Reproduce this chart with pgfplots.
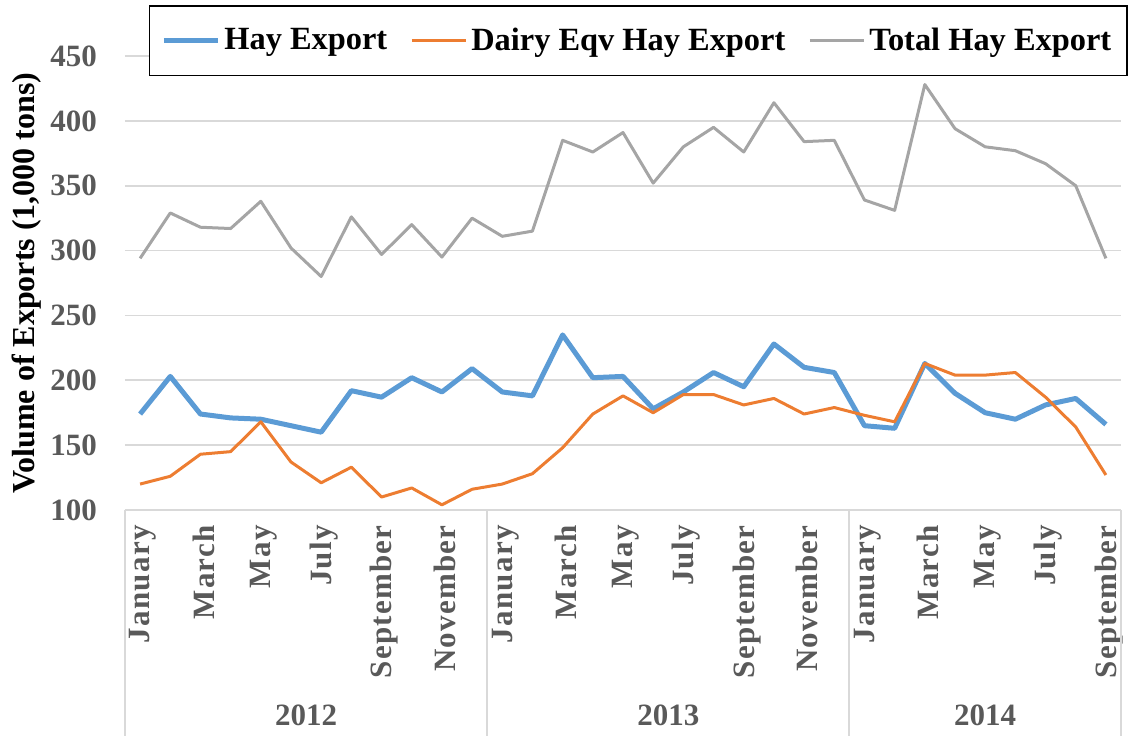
\documentclass[border=0pt]{standalone}
\usepackage{pgfplots}
\pgfplotsset{compat=1.18}
\usepackage{pgfplotstable}
\usepackage{fontspec}
\setmainfont{Liberation Serif}
\definecolor{cblue}{HTML}{5B9BD5}
\definecolor{corange}{HTML}{ED7D31}
\definecolor{cgray}{HTML}{A5A5A5}
\definecolor{gridc}{HTML}{D9D9D9}
\definecolor{txtc}{HTML}{595959}
\newcommand{\bigf}{\fontsize{15.5}{18}\selectfont\bfseries}
\newcommand{\legf}{\fontsize{16.2}{19}\selectfont\bfseries}
\newcommand{\labf}{\fontsize{16}{19}\selectfont\bfseries}
\newcommand{\monf}{\fontsize{15.5}{18}\selectfont\bfseries\addfontfeatures{LetterSpace=4}}
\pgfplotstableread{
x hay dairy total
0 174 120 294
1 203 126 329
2 174 143 318
3 171 145 317
4 170 168 338
5 165 137 302
6 160 121 280
7 192 133 326
8 187 110 297
9 202 117 320
10 191 104 295
11 209 116 325
12 191 120 311
13 188 128 315
14 235 148 385
15 202 174 376
16 203 188 391
17 178 175 352
18 191 189 380
19 206 189 395
20 195 181 376
21 228 186 414
22 210 174 384
23 206 179 385
24 165 173 339
25 163 168 331
26 213 213 428
27 190 204 394
28 175 204 380
29 170 206 377
30 181 187 367
31 186 164 350
32 166 127 294
}\data
\begin{document}
\begin{tikzpicture}
\begin{axis}[
  name=ax,
  at={(0,0)}, anchor=south west,
  scale only axis,
  width=498pt, height=227pt,
  xmin=-0.5, xmax=32.5,
  ymin=100, ymax=450,
  ytick={100,150,...,450},
  xtick={0,2,...,32},
  xticklabels={January,March,May,July,September,November,January,March,May,July,September,November,January,March,May,July,September},
  major tick length=0pt,
  axis lines*=left,
  y axis line style={draw=none},
  x axis line style={draw=gridc, line width=1pt},
  ymajorgrids,
  grid style={gridc, line width=0.9pt},
  /pgf/number format/assume math mode=true,
  yticklabel style={font=\bigf, text=txtc, xshift=-10.5pt},
  xticklabel style={font=\monf, text=txtc, xshift=1.5pt, yshift=-7.5pt, rotate=90, anchor=east, inner sep=0pt},
  ylabel={Volume of Exports (1,000 tons)},
  ylabel style={font=\labf, text=black, at={(axis description cs:-0.0984,0.5)}, anchor=center},
  clip=false,
  legend columns=3,
  legend style={at={(axis description cs:1.007,1.1123)}, anchor=north east, draw=black, line width=0.75pt, fill=white, font=\legf, text=black, inner xsep=6pt, inner ysep=9pt, /tikz/every even column/.append style={column sep=9.5pt}},
  legend image code/.code={\draw[#1] (0pt,0pt) -- (27pt,0pt);},
]
\addplot[cblue, line width=2.5pt, line join=round] table[x=x, y=hay] {\data};
\addlegendentry{Hay Export}
\addplot[corange, line width=1.5pt, line join=round] table[x=x, y=dairy] {\data};
\addlegendentry{Dairy Eqv Hay Export}
\addplot[cgray, line width=1.5pt, line join=round] table[x=x, y=total] {\data};
\addlegendentry{Total Hay Export}
\draw[gridc, line width=1pt] (axis cs:-0.5,100) -- ++(0pt,-113pt);
\draw[gridc, line width=1pt] (axis cs:11.5,100) -- ++(0pt,-113pt);
\draw[gridc, line width=1pt] (axis cs:23.5,100) -- ++(0pt,-113pt);
\draw[gridc, line width=1pt] (axis cs:32.5,100) -- ++(0pt,-113pt);
\node[font=\bigf, text=txtc, yshift=-102.5pt] at (axis cs:5.5,100) {2012};
\node[font=\bigf, text=txtc, yshift=-102.5pt] at (axis cs:17.5,100) {2013};
\node[font=\bigf, text=txtc, yshift=-102.5pt] at (axis cs:28,100) {2014};
\end{axis}
\pgfresetboundingbox
\path[use as bounding box] (-62.5pt,-113pt) rectangle (502.5pt,255pt);
\end{tikzpicture}
\end{document}
